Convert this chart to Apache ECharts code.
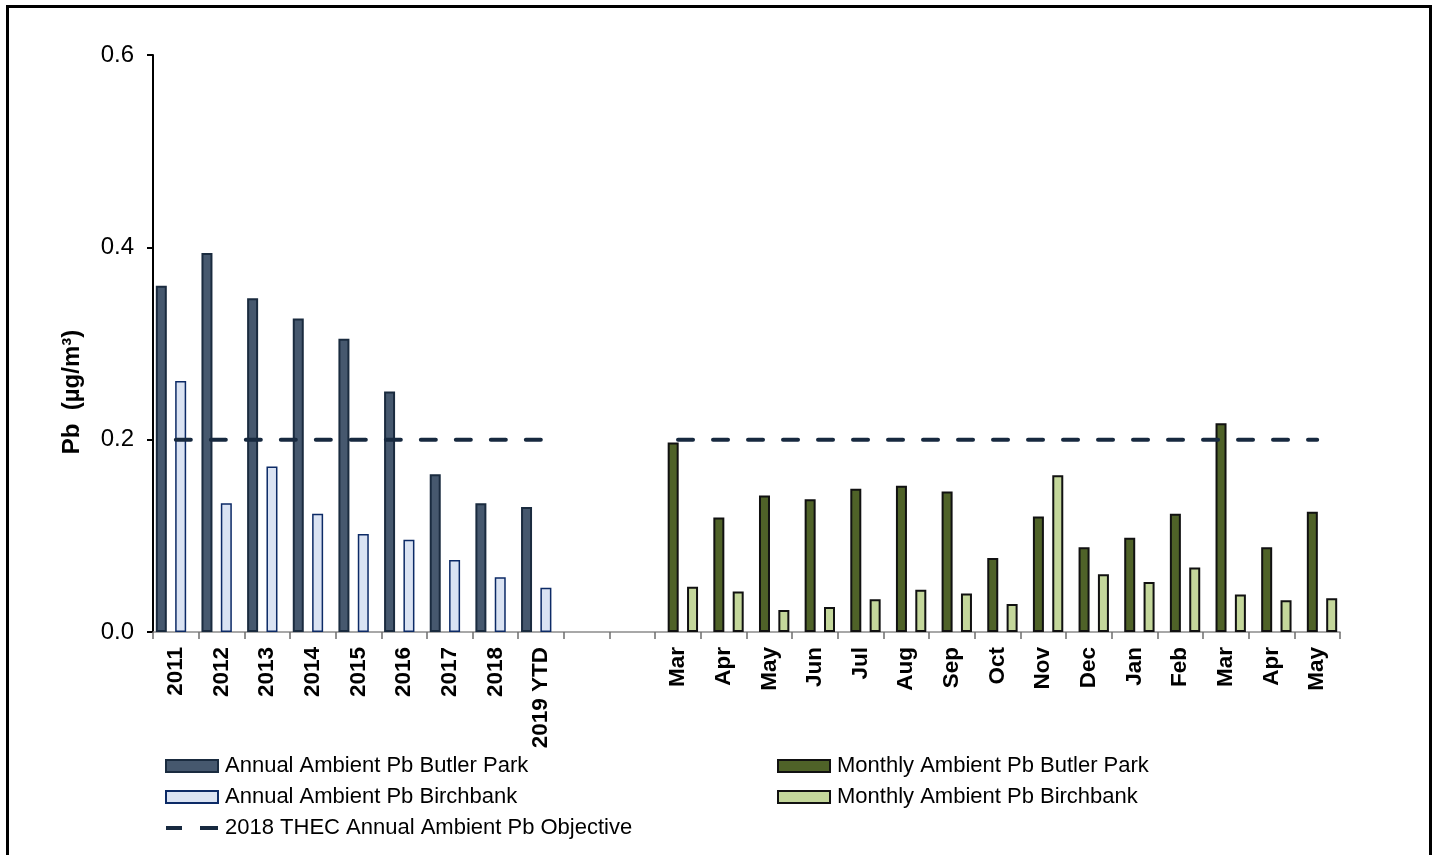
<!DOCTYPE html>
<html>
<head>
<meta charset="utf-8">
<script src="https://cdn.jsdelivr.net/npm/echarts@6/dist/echarts.min.js"></script>
<style>html,body{margin:0;padding:0;background:#fff}#c{width:1438px;height:855px}</style>
</head>
<body>
<div id="c"></div>
<script>
const categories = ['2011','2012','2013','2014','2015','2016','2017','2018','2019 YTD','','',
  'Mar','Apr','May','Jun','Jul','Aug','Sep','Oct','Nov','Dec','Jan','Feb','Mar','Apr','May'];
const annualButler = [0.360,0.394,0.347,0.326,0.305,0.250,0.164,0.134,0.130,null,null,
  null,null,null,null,null,null,null,null,null,null,null,null,null,null,null];
const annualBirch = [0.261,0.134,0.172,0.123,0.102,0.096,0.075,0.057,0.046,null,null,
  null,null,null,null,null,null,null,null,null,null,null,null,null,null,null];
const monthlyButler = [null,null,null,null,null,null,null,null,null,null,null,
  0.197,0.119,0.142,0.138,0.149,0.152,0.146,0.077,0.120,0.088,0.098,0.123,0.217,0.088,0.125];
const monthlyBirch = [null,null,null,null,null,null,null,null,null,null,null,
  0.047,0.042,0.023,0.026,0.034,0.044,0.040,0.029,0.163,0.060,0.052,0.067,0.039,0.033,0.035];
const objective = [0.2,0.2,0.2,0.2,0.2,0.2,0.2,0.2,0.2,null,null,
  0.2,0.2,0.2,0.2,0.2,0.2,0.2,0.2,0.2,0.2,0.2,0.2,0.2,0.2,0.2];
const yTicks = [0, 0.2, 0.4, 0.6];

const names = {
  ab: 'Annual Ambient Pb Butler Park',
  ai: 'Annual Ambient Pb Birchbank',
  mb: 'Monthly Ambient Pb Butler Park',
  mi: 'Monthly Ambient Pb Birchbank',
  ob: '2018 THEC Annual Ambient Pb Objective'
};
const FONT = 'Liberation Sans, Arial, sans-serif';
const chart = echarts.init(document.getElementById('c'), null, {renderer: 'canvas'});
const barCommon = {type: 'bar', barWidth: 11, barGap: '-12%', animation: false};
const legendCommon = {
  orient: 'vertical', itemWidth: 52, itemHeight: 12, itemGap: 9,
  icon: 'rect',
  textStyle: {fontFamily: FONT, fontSize: 22, color: '#000', lineHeight: 22, padding: [0,0,0,2]},
  selectedMode: false, padding: 0
};
chart.setOption({
  animation: false,
  grid: {left: 153, right: 98, top: 55, bottom: 223, containLabel: false},
  xAxis: {
    type: 'category', data: categories,
    axisLine: {lineStyle: {color: '#8c8c8c', width: 1.5}},
    axisTick: {show: true, length: 7, lineStyle: {color: '#6e6e6e', width: 1.5}, alignWithLabel: false},
    axisLabel: {rotate: 90, interval: 0, margin: 15, fontFamily: FONT, fontSize: 22.5, fontWeight: 'bold', color: '#000'}
  },
  yAxis: {
    type: 'value', min: 0, max: 0.6, interval: 0.2,
    axisLine: {show: true, lineStyle: {color: '#000', width: 2}},
    axisTick: {show: true, length: 6, lineStyle: {color: '#000', width: 2}},
    splitLine: {show: false},
    axisLabel: {margin: 19, fontFamily: FONT, fontSize: 24, color: '#000',
      formatter: v => yTicks.some(t => Math.abs(t - v) < 1e-9) ? v.toFixed(1) : ''}
  },
  legend: [
    Object.assign({}, legendCommon, {left: 165, top: 755, data: [
      {name: names.ab}, {name: names.ai}, {name: names.ob, icon: 'path://M0,4h16v4h-16z M34,4h18v4h-18z M0,0h0.01v0.01h-0.01z M0,11.99h0.01v0.01h-0.01z'}
    ]}),
    Object.assign({}, legendCommon, {left: 777, top: 755, data: [{name: names.mb}, {name: names.mi}]})
  ],
  series: [
    Object.assign({}, barCommon, {name: names.ab, data: annualButler,
      itemStyle: {color: '#46586e', borderColor: '#1a2b3f', borderWidth: 2}}),
    Object.assign({}, barCommon, {name: names.mb, data: monthlyButler,
      itemStyle: {color: '#4f6228', borderColor: '#111', borderWidth: 2}}),
    Object.assign({}, barCommon, {name: names.ai, data: annualBirch,
      itemStyle: {color: '#dae3f3', borderColor: '#0c2a66', borderWidth: 1.5}}),
    Object.assign({}, barCommon, {name: names.mi, data: monthlyBirch,
      itemStyle: {color: '#c4d79b', borderColor: '#111', borderWidth: 2}}),
    {name: names.ob, type: 'line', data: objective, symbol: 'none', connectNulls: false,
      itemStyle: {color: '#17293f'},
      lineStyle: {color: '#17293f', width: 4, type: [15, 20], cap: 'round'}, z: 5}
  ],
  graphic: [
    {type: 'rect', left: 5, top: 4, shape: {width: 1423, height: 870},
      style: {fill: 'none', stroke: '#000', lineWidth: 3}, silent: true},
    {type: 'text', x: 72, y: 392, rotation: Math.PI / 2,
      style: {text: 'Pb  (µg/m³)', font: 'bold 24px ' + FONT, fill: '#000', align: 'center', verticalAlign: 'middle'}}
  ]
});
</script>
</body>
</html>
